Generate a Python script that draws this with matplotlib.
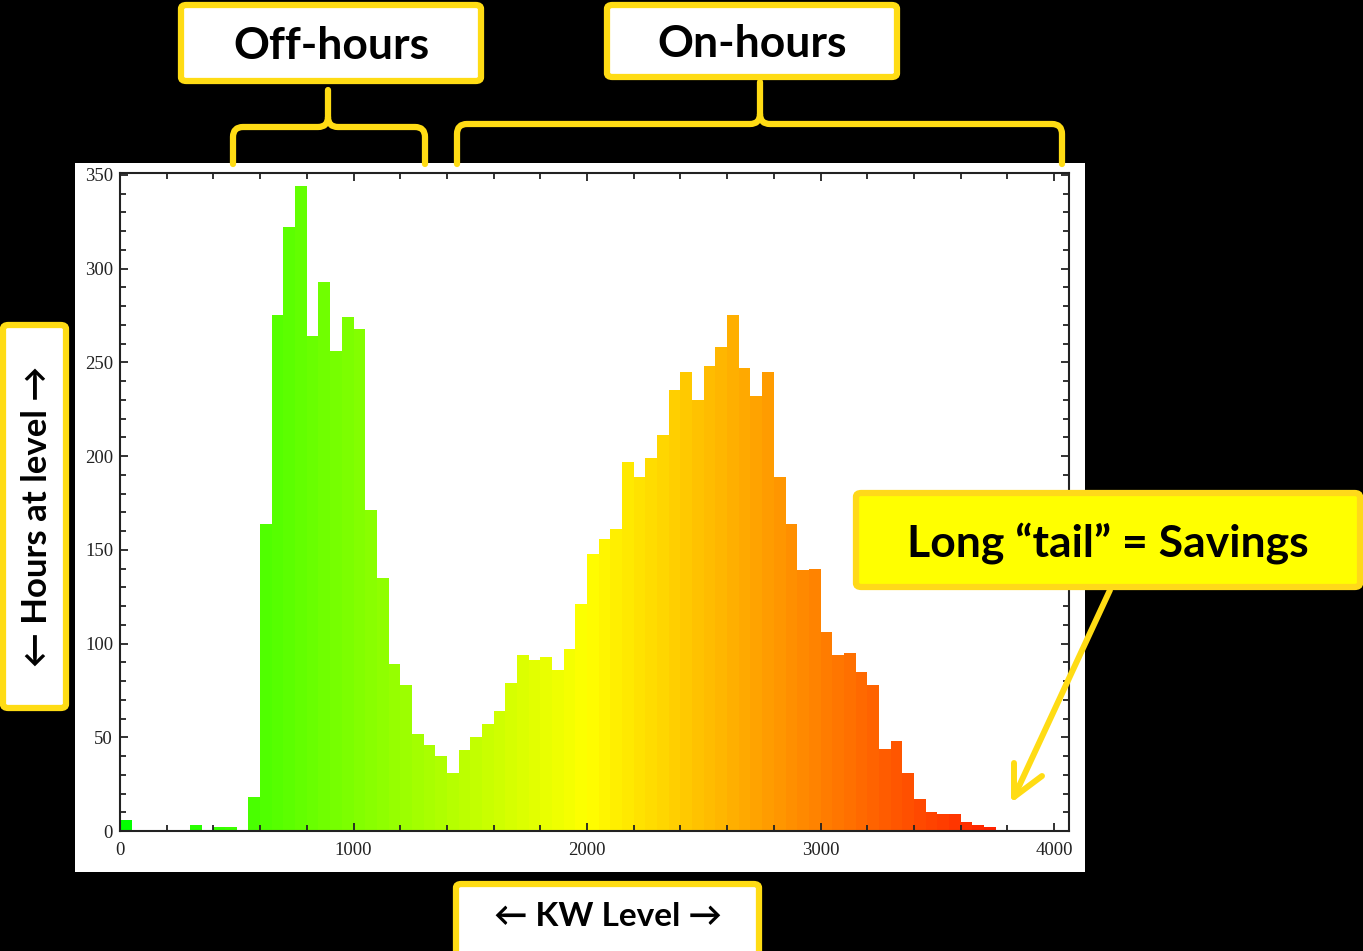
import numpy as np
import matplotlib
matplotlib.use('Agg')
import matplotlib.pyplot as plt
from matplotlib.colors import hsv_to_rgb
from matplotlib.patches import FancyBboxPatch, Rectangle
from matplotlib.path import Path
from matplotlib.patches import PathPatch

# %%
# histogram data: hours at each KW level (bin width 50)
bin_left = np.arange(0, 3750, 50)
hours = [6, 0, 0, 0, 0, 0, 3, 0, 2, 2,
         0, 18, 164, 275, 322, 344, 264, 293, 256, 274,
         268, 171, 135, 89, 78, 52, 46, 40, 31, 43,
         50, 57, 64, 79, 94, 91, 93, 86, 97, 121,
         148, 156, 161, 197, 189, 199, 211, 235, 245, 230,
         248, 258, 275, 247, 232, 245, 189, 164, 139, 140,
         106, 94, 95, 85, 78, 44, 48, 31, 17, 10,
         9, 9, 5, 3, 2]
bin_width = 50
xticks = [0, 1000, 2000, 3000, 4000]
yticks = [0, 50, 100, 150, 200, 250, 300, 350]

W, H = 1363, 951
YEL = '#ffdc14'


def fx(x):
    return x / W


def fy(y):
    return 1 - y / H


fig = plt.figure(figsize=(W / 100, H / 100), dpi=100, facecolor='black')

# white panel behind the plot
fig.patches.append(Rectangle((fx(75), fy(872)), fx(1085 - 75), (872 - 163) / H,
                             transform=fig.transFigure, facecolor='white',
                             edgecolor='none', zorder=-2))

ax = fig.add_axes([fx(120), fy(831), fx(1069 - 120), (831 - 173) / H])
ax.set_facecolor('white')
ax.set_zorder(0.5)

centers = np.array(bin_left) + bin_width / 2
hue = np.clip((120 - 0.03 * centers) / 360., 0, 1)
colors = hsv_to_rgb(np.stack([hue, np.ones_like(hue), np.ones_like(hue)], axis=1))
ax.bar(bin_left, hours, width=bin_width, align='edge', color=colors,
       edgecolor='none', linewidth=0)

ax.set_xlim(0, 4064)
ax.set_ylim(0, 351)
ax.set_xticks(xticks)
ax.set_xticks(np.arange(0, 4001, 200), minor=True)
ax.set_yticks(yticks)
ax.set_yticks(np.arange(0, 351, 10), minor=True)
ax.tick_params(which='both', direction='in', top=True, right=True,
               color='#222222', width=1.3)
ax.tick_params(which='major', length=6, labelsize=13.5)
ax.tick_params(axis='x', which='major', pad=8)
ax.tick_params(axis='y', which='major', pad=5)
ax.tick_params(which='minor', length=4)
for lab in ax.get_xticklabels() + ax.get_yticklabels():
    lab.set_family('Liberation Serif')
    lab.set_color('#222222')
for sp in ax.spines.values():
    sp.set_color('#222222')
    sp.set_linewidth(1.5)

fam = ['Lato', 'DejaVu Sans']


def label_box(x0, y0, x1, y1, text, size, face='white', edge=YEL, rot=0,
              dx=0, dy=0):
    box = FancyBboxPatch((fx(x0), fy(y1)), fx(x1 - x0), (y1 - y0) / H,
                         boxstyle='round,pad=0,rounding_size=0.004',
                         transform=fig.transFigure, facecolor=face,
                         edgecolor=edge, linewidth=4.5, zorder=5)
    fig.patches.append(box)
    fig.text(fx((x0 + x1) / 2 + dx), fy((y0 + y1) / 2 + dy), text, ha='center',
             va='center', fontsize=size, fontweight='bold', family=fam,
             rotation=rot, color='black', zorder=6)


label_box(181, 5, 481, 81, 'Off-hours', 32, dy=3)
label_box(607, 5, 897, 77, 'On-hours', 32, dy=3)
label_box(856, 493, 1360, 587, 'Long \u201ctail\u201d = Savings', 32,
          face='#ffff00', edge='#ffd91a', dy=3)
label_box(3, 325, 66, 708, '\u2190 Hours at level \u2192', 25, rot=90, dx=3)
label_box(456, 884, 759, 960, '\u2190 KW Level \u2192', 24, dy=-5)


def brace(xl, xm, xr, ytop, ybar, ybot, r=10):
    verts = [(xl, ybot), (xl, ybar + r), (xl, ybar), (xl + r, ybar),
             (xm - r, ybar), (xm, ybar), (xm, ybar - r), (xm, ytop),
             (xm, ybar - r), (xm, ybar), (xm + r, ybar),
             (xr - r, ybar), (xr, ybar), (xr, ybar + r), (xr, ybot)]
    codes = [Path.MOVETO, Path.LINETO, Path.CURVE3, Path.CURVE3,
             Path.LINETO, Path.CURVE3, Path.CURVE3, Path.LINETO,
             Path.MOVETO, Path.CURVE3, Path.CURVE3,
             Path.LINETO, Path.CURVE3, Path.CURVE3, Path.LINETO]
    verts = [(fx(x), fy(y)) for x, y in verts]
    fig.patches.append(PathPatch(Path(verts, codes), transform=fig.transFigure,
                                 facecolor='none', edgecolor=YEL, linewidth=4.5,
                                 capstyle='round', joinstyle='round', zorder=-1))


brace(233, 328, 425, 90, 127, 164)
brace(457, 760, 1062, 82, 124, 164)

# arrow to the tail
fig.lines.append(plt.Line2D([fx(1110), fx(1014)], [fy(590), fy(797)],
                            transform=fig.transFigure, color=YEL, lw=4.3,
                            solid_capstyle='round', zorder=4))
fig.lines.append(plt.Line2D([fx(1014), fx(1014), fx(1042)],
                            [fy(763), fy(797), fy(776)],
                            transform=fig.transFigure, color=YEL, lw=4.3,
                            solid_capstyle='round', solid_joinstyle='round',
                            zorder=4))

plt.savefig('out.png', dpi=100, facecolor='black')
plt.close()
